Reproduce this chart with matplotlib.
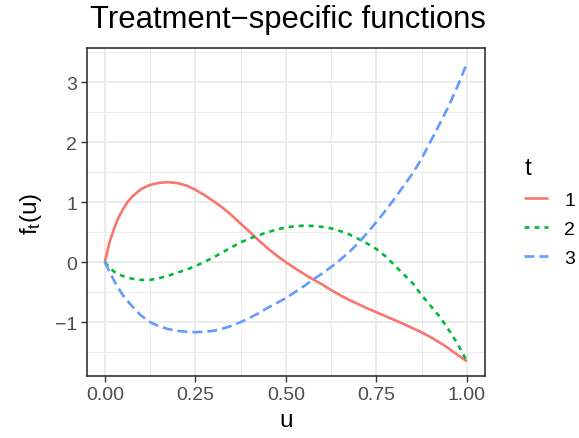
import matplotlib
matplotlib.use("Agg")
import matplotlib.pyplot as plt
from matplotlib.ticker import FixedLocator

plt.rcParams['font.family'] = ['Liberation Sans', 'DejaVu Sans']
plt.rcParams['mathtext.default'] = 'regular'
plt.rcParams['lines.scale_dashes'] = False

# values
u = [0.0, 0.0125, 0.025, 0.0375, 0.05, 0.0625, 0.075, 0.1, 0.125, 0.15, 0.175, 0.2, 0.225,
     0.25, 0.275, 0.3, 0.325, 0.35, 0.375, 0.4, 0.425, 0.45, 0.475,
     0.5, 0.525, 0.55, 0.575, 0.6, 0.625, 0.65, 0.675, 0.7, 0.725,
     0.75, 0.775, 0.8, 0.825, 0.85, 0.875, 0.9, 0.925, 0.95, 0.975, 1.0]

f1 = [0.0, 0.32, 0.55, 0.74, 0.88, 1.0, 1.09, 1.22, 1.29, 1.325, 1.335, 1.32, 1.28,
      1.21, 1.12, 1.02, 0.91, 0.785, 0.645, 0.505, 0.365, 0.23, 0.11,
      0.0, -0.10, -0.195, -0.285, -0.37, -0.465, -0.55, -0.63, -0.70, -0.77,
      -0.835, -0.90, -0.965, -1.03, -1.10, -1.17, -1.25, -1.34, -1.44, -1.55, -1.655]

f2 = [0.0, -0.085, -0.155, -0.2, -0.23, -0.255, -0.275, -0.295, -0.295, -0.265, -0.225, -0.175, -0.125,
      -0.065, 0.005, 0.08, 0.165, 0.25, 0.33, 0.395, 0.45, 0.50, 0.545,
      0.58, 0.60, 0.61, 0.605, 0.59, 0.565, 0.52, 0.465, 0.39, 0.31,
      0.22, 0.10, -0.05, -0.20, -0.35, -0.55, -0.73, -0.91, -1.13, -1.37, -1.655]

f3 = [0.0, -0.15, -0.30, -0.43, -0.55, -0.645, -0.73, -0.89, -1.0, -1.07, -1.115, -1.145, -1.16,
      -1.167, -1.16, -1.145, -1.11, -1.06, -1.0, -0.93, -0.85, -0.76, -0.68,
      -0.60, -0.50, -0.40, -0.29, -0.19, -0.08, 0.04, 0.17, 0.32, 0.49,
      0.67, 0.86, 1.06, 1.27, 1.48, 1.73, 2.02, 2.31, 2.61, 2.95, 3.32]

groups = ['1', '2', '3']
colors = ['#F8766D', '#00BA38', '#619CFF']
dash_styles = [None, (0, (3.6, 3.6)), (0, (7.2, 3.6))]

xticks = [0.0, 0.25, 0.5, 0.75, 1.0]
xtick_labels = ['0.00', '0.25', '0.50', '0.75', '1.00']
yticks = [-1, 0, 1, 2, 3]

fig = plt.figure(figsize=(5.79, 4.39), dpi=100)
ax = fig.add_axes([0.1497, 0.1405, 0.8377 - 0.1497, 0.8877 - 0.1405])

for g, ys, c, ds in zip(groups, [f1, f2, f3], colors, dash_styles):
    if ds is None:
        ax.plot(u, ys, color=c, lw=1.9, label=g, solid_capstyle='butt')
    else:
        ax.plot(u, ys, color=c, lw=1.9, label=g, linestyle=ds, dash_capstyle='butt')

ymin = min(f1 + f2 + f3)
ymax = max(f1 + f2 + f3)
pad = 0.05 * (ymax - ymin)
ax.set_xlim(-0.05, 1.05)
ax.set_ylim(ymin - pad, ymax + pad)

ax.set_xticks(xticks)
ax.set_xticklabels(xtick_labels)
ax.set_yticks(yticks)
ax.xaxis.set_minor_locator(FixedLocator([0.125, 0.375, 0.625, 0.875]))
ax.yaxis.set_minor_locator(FixedLocator([-1.5, -0.5, 0.5, 1.5, 2.5, 3.5]))
ax.grid(True, which='major', color='#EBEBEB', lw=1.4)
ax.grid(True, which='minor', color='#EBEBEB', lw=0.7)
ax.set_axisbelow(True)
ax.tick_params(which='minor', length=0)
ax.tick_params(which='major', length=4, width=1.0, color='#333333',
               labelsize=14, labelcolor='#4D4D4D', pad=3)
for s in ax.spines.values():
    s.set_color('#333333')
    s.set_linewidth(1.2)

ax.set_xlabel('u', fontsize=17.5, labelpad=4)
ax.set_ylabel('f$_t$(u)', fontsize=17.5, labelpad=8)
fig.text(0.155, 1 - 20 / 439, 'Treatment\u2212specific functions',
         fontsize=22.3, ha='left', va='center')

leg = ax.legend(title='t', loc='center left', bbox_to_anchor=(1.055, 0.5),
                frameon=False, fontsize=14, title_fontsize=17.5,
                handlelength=1.2, handletextpad=0.85, labelspacing=0.6)
leg._legend_box.align = 'left'

fig.savefig('out.png', dpi=100)
